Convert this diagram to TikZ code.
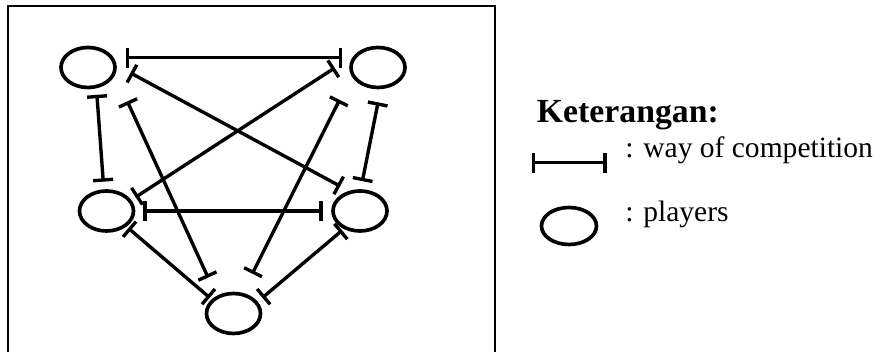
\documentclass[tikz,border=0pt]{standalone}
\usepackage{fontspec}
\setmainfont{Liberation Serif}
\usetikzlibrary{arrows.meta,shapes.geometric}

\begin{document}
\begin{tikzpicture}[x=0.025cm,y=-0.025cm,
  player/.style={draw,ellipse,line width=2.6pt,inner sep=0pt,minimum width=1.35cm,minimum height=1cm},
  duel/.style={arrows={Bar[width=5mm]-Bar[width=5mm]},line width=2.4pt},
  legendtxt/.style={anchor=base west,inner sep=0pt,font=\fontsize{21pt}{25pt}\selectfont}]
  \useasboundingbox (0,0) rectangle (877,352);
  % frame, open at the bottom
  \draw[line width=1.4pt] (7.8,360) |- (495,6) -- (495,360);

  % players
  \node[player] (tl) at (88,67.5) {};
  \node[player] (tr) at (378,67.5) {};
  \node[player] (ml) at (106.5,211) {};
  \node[player] (mr) at (360,211) {};
  \node[player] (bot) at (233.5,313.5) {};

  % ways of competition
  \draw[duel,shorten <=8.4pt,shorten >=7.4pt] (tl.21.6) -- (tr.159.6);
  \draw[duel,shorten <=4.6pt,shorten >=5.4pt] (tl.-68.7) -- (ml.97.8);
  \draw[duel,shorten <=9.5pt,shorten >=5.8pt] (tr.-83.1) -- (mr.88.9);
  \draw[duel,shorten <=5.7pt,shorten >=6pt] (ml.east) -- (mr.west);
  \draw[duel,shorten <=11.1pt,shorten >=7pt] (tl.4.9) -- (mr.119.7);
  \draw[duel,shorten <=16.4pt,shorten >=3.6pt] (tr.153.2) -- (ml.24.9);
  \draw[duel,shorten <=20.8pt,shorten >=14.3pt] (tl.-15.4) -- (bot.134.8);
  \draw[duel,shorten <=18.9pt,shorten >=15.2pt] (tr.198.6) -- (bot.66.6);
  \draw[duel,shorten <=1.6pt,shorten >=1.7pt] (ml.-38.1) -- (bot.147.2);
  \draw[duel,shorten <=1.5pt,shorten >=4.3pt] (mr.-132.2) -- (bot.26);

  % legend
  \node[legendtxt,font=\fontsize{24pt}{28pt}\selectfont\bfseries] (keyhead) at (536.7,123) {Keterangan:};
  \coordinate (keyA) at (531.7,162.7);
  \coordinate (keyB) at (606.7,162.7);
  \draw[duel] (keyA) -- (keyB);
  \node[legendtxt] (keyway) at (625,158) {: way of competition};
  \node[player,minimum width=1.375cm,minimum height=0.925cm] (keyplayer) at (569,226) {};
  \node[legendtxt] (keyplay) at (625,222) {: players};
\end{tikzpicture}
\end{document}
